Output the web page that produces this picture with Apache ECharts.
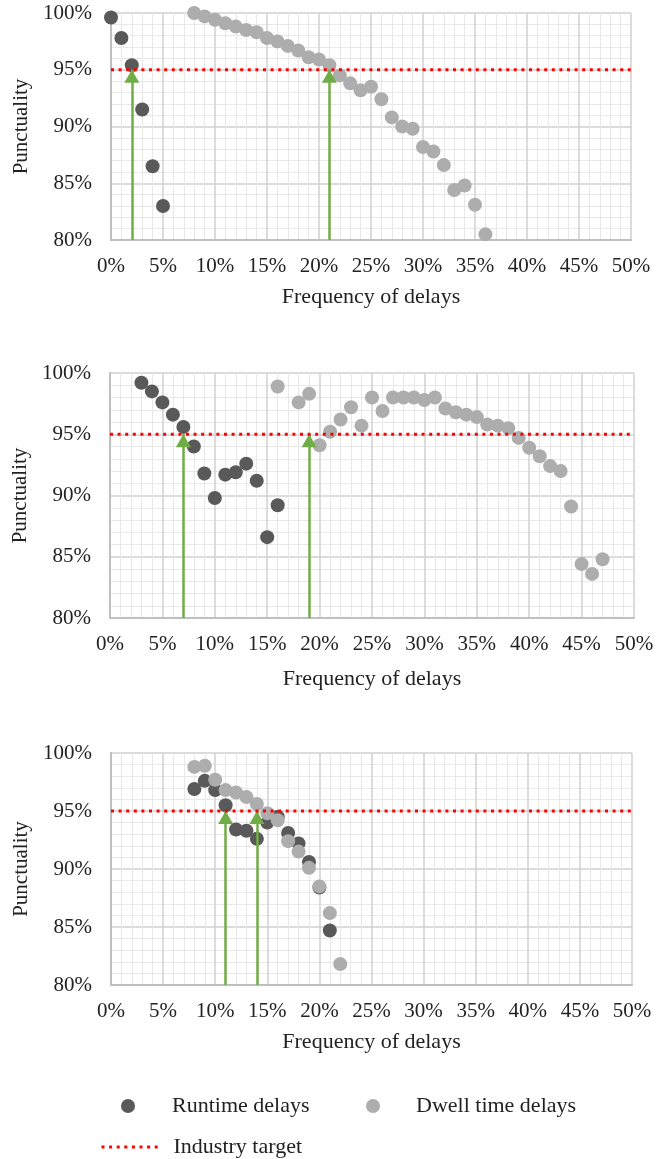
<!DOCTYPE html>
<html>
<head>
<meta charset="utf-8">
<script src="https://cdn.jsdelivr.net/npm/echarts@6/dist/echarts.min.js"></script>
<style>
  html, body { margin: 0; padding: 0; background: #ffffff; }
  #chart { width: 672px; height: 1159px; }
</style>
</head>
<body>
<div id="chart"></div>
<script>
// Punctuality against frequency of delays, three panels.
// Each point: [frequency of delays (%), punctuality (%)].
const runtime1 = [[0, 99.6], [1, 97.8], [2, 95.4], [3, 91.5], [4, 86.5], [5, 83.0]];
const dwell1 = [
  [8, 100.0], [9, 99.7], [10, 99.4], [11, 99.1], [12, 98.8], [13, 98.5], [14, 98.3],
  [15, 97.8], [16, 97.5], [17, 97.1], [18, 96.7], [19, 96.1], [20, 95.9], [21, 95.4],
  [22, 94.5], [23, 93.8], [24, 93.2], [25, 93.5], [26, 92.4], [27, 90.8], [28, 90.0],
  [29, 89.8], [30, 88.2], [31, 87.8], [32, 86.6], [33, 84.4], [34, 84.8], [35, 83.1],
  [36, 80.5]
];
const arrows1 = [2, 21];

const runtime2 = [
  [3, 99.2], [4, 98.5], [5, 97.6], [6, 96.6], [7, 95.6], [8, 94.0], [9, 91.8],
  [10, 89.8], [11, 91.7], [12, 91.9], [13, 92.6], [14, 91.2], [15, 86.6], [16, 89.2]
];
const dwell2 = [
  [16, 98.9], [18, 97.6], [19, 98.3], [20, 94.1], [21, 95.2], [22, 96.2], [23, 97.2],
  [24, 95.7], [25, 98.0], [26, 96.9], [27, 98.0], [28, 98.0], [29, 98.0], [30, 97.8],
  [31, 98.0], [32, 97.1], [33, 96.8], [34, 96.6], [35, 96.4], [36, 95.8], [37, 95.7],
  [38, 95.5], [39, 94.7], [40, 93.9], [41, 93.2], [42, 92.4], [43, 92.0], [44, 89.1],
  [45, 84.4], [46, 83.6], [47, 84.8]
];
const arrows2 = [7, 19];

const runtime3 = [
  [8, 96.9], [9, 97.6], [10, 96.8], [11, 95.5], [12, 93.4], [13, 93.3], [14, 92.6],
  [15, 94.0], [16, 94.5], [17, 93.1], [18, 92.2], [19, 90.6], [20, 88.4], [21, 84.7]
];
const dwell3 = [
  [8, 98.8], [9, 98.9], [10, 97.7], [11, 96.8], [12, 96.6], [13, 96.2], [14, 95.6],
  [15, 94.8], [16, 94.2], [17, 92.4], [18, 91.5], [19, 90.1], [20, 88.5], [21, 86.2],
  [22, 81.8]
];
const arrows3 = [11, 14];

const industryTarget = 95;
const xRange = [0, 50];
const yRange = [80, 100];
const xStep = 5;
const yStep = 5;

const panels = [
  { runtime: runtime1, dwell: dwell1, arrows: arrows1 },
  { runtime: runtime2, dwell: dwell2, arrows: arrows2 },
  { runtime: runtime3, dwell: dwell3, arrows: arrows3 }
];

// Plot rectangles in pixels.
const grids = [
  { left: 111, width: 520, top: 13, height: 227, nameGap: 46 },
  { left: 110, width: 524, top: 373, height: 245, nameGap: 50 },
  { left: 111, width: 521, top: 753, height: 232, nameGap: 46 }
];

const FONT = '"Liberation Serif", "Times New Roman", serif';
const TEXT = '#222222';
const DARK = '#595959';
const LIGHT = '#ADADAD';
const RED = '#FF0000';
const GREEN = '#70AD47';
const DOTS = [3, 4.6];

const option = {
  animation: false,
  backgroundColor: '#ffffff',
  grid: grids.map(g => ({ left: g.left, width: g.width, top: g.top, height: g.height, containLabel: false })),
  xAxis: grids.map((g, i) => ({
    gridIndex: i,
    type: 'value',
    min: xRange[0], max: xRange[1], interval: xStep,
    name: 'Frequency of delays',
    nameLocation: 'middle',
    nameGap: g.nameGap,
    nameTextStyle: { fontFamily: FONT, fontSize: 22, color: TEXT },
    axisLabel: { formatter: '{value}%', fontFamily: FONT, fontSize: 21, color: TEXT, margin: 16 },
    axisLine: { show: true, onZero: false, lineStyle: { color: '#bfbfbf', width: 2 } },
    axisTick: { show: false },
    splitLine: { show: true, lineStyle: { color: '#d0d0d0', width: 1.5 } },
    minorTick: { show: false, splitNumber: 5 },
    minorSplitLine: { show: true, lineStyle: { color: '#e8e8e8', width: 1 } }
  })),
  yAxis: grids.map((g, i) => ({
    gridIndex: i,
    type: 'value',
    min: yRange[0], max: yRange[1], interval: yStep,
    name: 'Punctuality',
    nameLocation: 'middle',
    nameGap: 77,
    nameRotate: 90,
    nameTextStyle: { fontFamily: FONT, fontSize: 21, color: TEXT },
    axisLabel: { formatter: '{value}%', fontFamily: FONT, fontSize: 21, color: TEXT, margin: 19 },
    axisLine: { show: true, onZero: false, lineStyle: { color: '#bfbfbf', width: 2 } },
    axisTick: { show: false },
    splitLine: { show: true, lineStyle: { color: '#d0d0d0', width: 1.5 } },
    minorTick: { show: false, splitNumber: 5 },
    minorSplitLine: { show: true, lineStyle: { color: '#e8e8e8', width: 1 } }
  })),
  legend: [
    {
      data: ['Runtime delays'], left: 121, top: 1094, padding: 0,
      icon: 'circle', itemWidth: 14, itemHeight: 14,
      textStyle: { fontFamily: FONT, fontSize: 22, lineHeight: 24, color: TEXT, padding: [0, 0, 0, 32] }
    },
    {
      data: ['Dwell time delays'], left: 366, top: 1094, padding: 0,
      icon: 'circle', itemWidth: 14, itemHeight: 14,
      textStyle: { fontFamily: FONT, fontSize: 22, lineHeight: 24, color: TEXT, padding: [0, 0, 0, 31] }
    },
    {
      data: ['Industry target'], left: 100, top: 1135, padding: 0,
      itemWidth: 60, itemHeight: 14,
      itemStyle: { color: 'rgba(0,0,0,0)', borderWidth: 0, opacity: 0 },
      lineStyle: { color: RED, width: 3, type: DOTS },
      textStyle: { fontFamily: FONT, fontSize: 22, lineHeight: 24, color: TEXT, padding: [0, 0, 0, 7] }
    }
  ],
  series: []
};

panels.forEach((p, i) => {
  option.series.push({
    name: 'Runtime delays', type: 'scatter', xAxisIndex: i, yAxisIndex: i,
    data: p.runtime, symbolSize: 14, itemStyle: { color: DARK, opacity: 1 }, z: 3, silent: true
  });
  option.series.push({
    name: 'Dwell time delays', type: 'scatter', xAxisIndex: i, yAxisIndex: i,
    data: p.dwell, symbolSize: 14, itemStyle: { color: LIGHT, opacity: 1 }, z: 4, silent: true
  });
  option.series.push({
    name: 'Industry target', type: 'line', xAxisIndex: i, yAxisIndex: i,
    data: [[xRange[0], industryTarget], [xRange[1], industryTarget]],
    symbol: 'none', showSymbol: false, z: 5, silent: true,
    itemStyle: { color: RED },
    lineStyle: { color: RED, width: 3, type: DOTS },
    // Green arrows rising from the x axis to where each series meets the target.
    markLine: {
      silent: true,
      symbol: ['none', 'triangle'],
      symbolSize: 14,
      label: { show: false },
      lineStyle: { color: GREEN, width: 2.5, type: 'solid' },
      itemStyle: { color: GREEN },
      emphasis: { disabled: true },
      data: p.arrows.map(x => [
        { coord: [x, yRange[0]], symbol: 'none' },
        { coord: [x, industryTarget], symbol: 'triangle', symbolSize: [15, 13], symbolOffset: [0, 6.5] }
      ])
    }
  });
});

const chart = echarts.init(document.getElementById('chart'), null, { renderer: 'canvas' });
chart.setOption(option);
</script>
</body>
</html>
